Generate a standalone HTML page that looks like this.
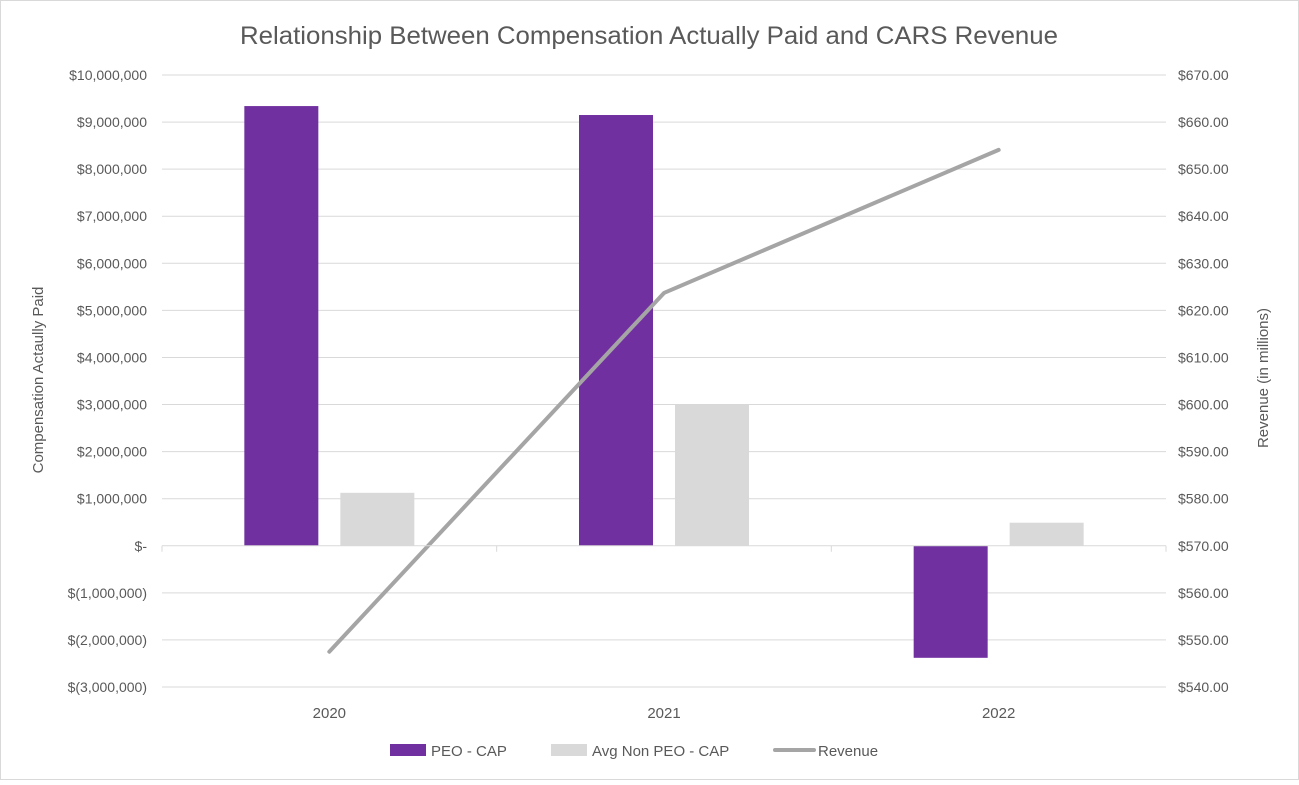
<!DOCTYPE html>
<html><head><meta charset="utf-8">
<style>
html,body{margin:0;padding:0;background:#fff;}
svg text{font-family:"Liberation Sans",sans-serif;fill:#595959;}
</style></head>
<body>
<svg width="1299" height="780" viewBox="0 0 1299 780">
<rect x="0.5" y="0.5" width="1298" height="779" fill="#fff" stroke="#d9d9d9"/>
<text x="240" y="44" font-size="25" textLength="818" lengthAdjust="spacingAndGlyphs">Relationship Between Compensation Actually Paid and CARS Revenue</text>
<g id="grid"></g>
<g id="bars"></g>
<g id="line"></g>
<g id="axes"></g>
<text transform="translate(43,380) rotate(-90)" font-size="15" text-anchor="middle">Compensation Actaully Paid</text>
<text transform="translate(1268,378) rotate(-90)" font-size="15" text-anchor="middle">Revenue (in millions)</text>
<g>
<rect x="390" y="744" width="36" height="12" fill="#7030a0"/>
<text x="431" y="756" font-size="15">PEO - CAP</text>
<rect x="551" y="744" width="36" height="12" fill="#d9d9d9"/>
<text x="592" y="756" font-size="15">Avg Non PEO - CAP</text>
<line x1="775" y1="750" x2="814" y2="750" stroke="#a5a5a5" stroke-width="4" stroke-linecap="round"/>
<text x="818" y="756" font-size="15">Revenue</text>
</g>
</svg>
<script>
const categories=["2020","2021","2022"];
const peoCap=[9340000,9150000,-2380000];
const avgCap=[1125000,3000000,490000];
const revenue=[547.5,623.7,654.1];
const leftTicks=[10000000,9000000,8000000,7000000,6000000,5000000,4000000,3000000,2000000,1000000,0,-1000000,-2000000,-3000000];
const rightTicks=[670,660,650,640,630,620,610,600,590,580,570,560,550,540];

const NS="http://www.w3.org/2000/svg";
const X0=162,X1=1166,TOP=75,BOT=687;
const yL=v=>TOP+(10000000-v)/13000000*(BOT-TOP);
const yR=v=>TOP+(670-v)/130*(BOT-TOP);
const bw=(X1-X0)/categories.length;
const xC=i=>X0+bw*(i+0.5);
function mk(tag,attrs,parent){const e=document.createElementNS(NS,tag);for(const k in attrs)e.setAttribute(k,attrs[k]);document.getElementById(parent).appendChild(e);return e;}
function fmt(v){if(v===0)return "$-";const s=Math.abs(v).toLocaleString("en-US");return v<0?"$("+s+")":"$"+s;}

leftTicks.forEach(v=>{
  const y=yL(v);
  if(v!==0){const g=mk("line",{x1:X0,x2:X1,y1:y,y2:y,stroke:"#d9d9d9","stroke-width":1},"grid");
  
  }
  const t=mk("text",{x:147,y:y+5,"font-size":14,"text-anchor":"end"},"axes");t.textContent=fmt(v);
  
  
});
rightTicks.forEach(v=>{
  const t=mk("text",{x:1178,y:yR(v)+5,"font-size":14},"axes");t.textContent="$"+v.toFixed(2);
  
  
});
const z=yL(0);
const zl=mk("line",{x1:X0,x2:X1,y1:z,y2:z,stroke:"#d9d9d9","stroke-width":1},"axes");


for(let i=0;i<=categories.length;i++){
  const tk=mk("line",{x1:X0+bw*i,x2:X0+bw*i,y1:z,y2:z+6,stroke:"#d9d9d9"},"axes");
  
  
}
categories.forEach((c,i)=>{
  const t=mk("text",{x:xC(i),y:718,"font-size":15,"text-anchor":"middle"},"axes");t.textContent=c;
  
  
  const W=74;
  const p=peoCap[i],a=avgCap[i];
  const b1=mk("rect",{x:xC(i)-85,y:Math.min(yL(p),z),width:W,height:Math.abs(yL(p)-z),fill:"#7030a0"},"bars");
  
  
  const b2=mk("rect",{x:xC(i)+11,y:Math.min(yL(a),z),width:W,height:Math.abs(yL(a)-z),fill:"#d9d9d9"},"bars");
  
  
});
const pts=revenue.map((v,i)=>xC(i)+","+yR(v)).join(" ");
const pl=mk("polyline",{points:pts,fill:"none",stroke:"#a5a5a5","stroke-width":4,"stroke-linecap":"round","stroke-linejoin":"round"},"line");


</script>
</body></html>
